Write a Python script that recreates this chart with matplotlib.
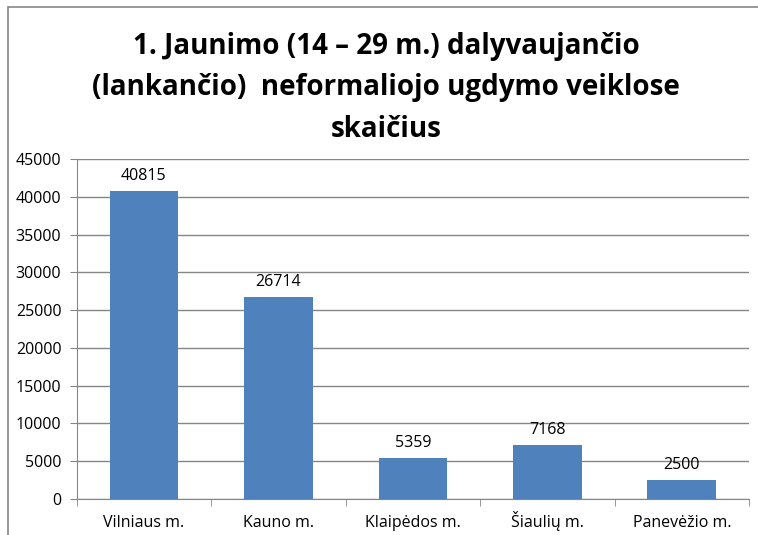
import matplotlib
matplotlib.use("Agg")
import matplotlib.pyplot as plt
from matplotlib.patches import Rectangle
from matplotlib.transforms import blended_transform_factory

# data
categories = ["Vilniaus m.", "Kauno m.", "Klaipėdos m.", "Šiaulių m.", "Panevėžio m."]
values = [40815, 26714, 5359, 7168, 2500]
y_ticks = list(range(0, 45001, 5000))
title = "1. Jaunimo (14 – 29 m.) dalyvaujančio\n(lankančio)  neformaliojo ugdymo veiklose\nskaičius"

W, H = 758, 535
fig = plt.figure(figsize=(W / 100, H / 100), dpi=100)
plt.rcParams['font.family'] = ['Open Sans', 'DejaVu Sans']

# outer chart frame (only left and top edges visible in the reference)
fig.patches.append(Rectangle((8 / W, -0.1), 1.2, (1 - 7 / H) + 0.1,
                             transform=fig.transFigure, fill=False,
                             edgecolor='#868686', linewidth=1.2))

ax = fig.add_axes([76.7 / W, 1 - 498.7 / H, (749 - 76.7) / W, (498.7 - 159.3) / H])

x = list(range(len(categories)))
bars = ax.bar(x, values, width=0.51, color='#4F81BD', zorder=3)

for bar, val in zip(bars, values):
    ax.annotate(f"{val}", (bar.get_x() + bar.get_width() / 2, bar.get_height()),
                xytext=(0, 5), textcoords='offset points',
                ha='center', va='bottom', fontsize=11.5, zorder=4)

ax.set_xlim(-0.5, len(categories) - 0.5)
ax.set_ylim(0, 45000)
ax.set_yticks(y_ticks)
ax.set_yticklabels([str(t) for t in y_ticks], fontsize=11.5)
ax.yaxis.grid(True, color='#868686', linewidth=1, zorder=0)

# category labels on a shared baseline so accented letters don't shift them
ax.set_xticks(x)
ax.set_xticklabels([])
ax.tick_params(axis='x', length=0)
trans = blended_transform_factory(ax.transData, fig.transFigure)
for i, name in zip(x, categories):
    ax.text(i, 1 - 527 / H, name, transform=trans, ha='center', va='baseline',
            fontsize=11.5, clip_on=False)

ax.set_xticks([i + 0.5 for i in range(-1, len(categories))], minor=True)
ax.tick_params(axis='x', which='minor', length=5, color='#868686')
ax.tick_params(axis='y', length=5, color='#868686', pad=6)

for side in ['top', 'right']:
    ax.spines[side].set_visible(False)
for side in ['left', 'bottom']:
    ax.spines[side].set_color('#868686')

fig.text(386 / W, 1 - 88 / H, title, ha='center', va='center',
         fontsize=20, fontweight='bold', linespacing=1.55)

fig.savefig("out.png", dpi=100)
